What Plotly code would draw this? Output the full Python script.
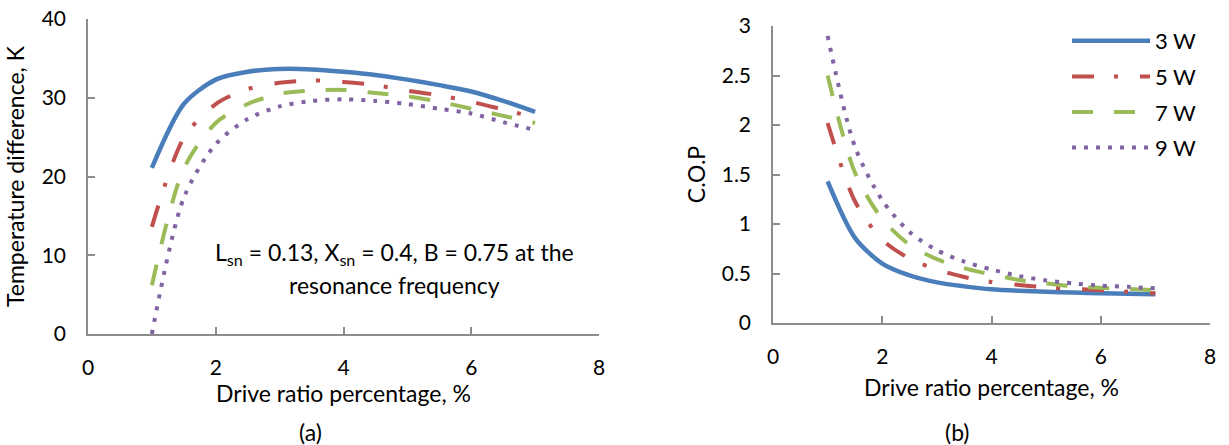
import plotly.graph_objects as go

# ---- data ----
drive_ratio = [1, 1.5, 2, 2.5, 3, 3.5, 4, 4.5, 5, 5.5, 6, 6.5, 7]
series_names = ["3 W", "5 W", "7 W", "9 W"]

dT_3W = [21.1, 29.2, 32.3, 33.3, 33.65, 33.6, 33.3, 32.9, 32.3, 31.6, 30.8, 29.6, 28.2]
dT_5W = [13.6, 24.9, 29.2, 31.1, 31.9, 32.2, 32.0, 31.6, 30.9, 30.3, 29.5, 28.5, 27.5]
dT_7W = [6.2, 21.0, 26.8, 29.2, 30.5, 30.9, 31.0, 30.6, 30.2, 29.5, 28.6, 27.7, 26.8]
dT_9W = [0.0, 17.3, 24.1, 27.3, 28.9, 29.6, 29.8, 29.6, 29.2, 28.6, 28.0, 26.9, 25.9]

cop_3W = [1.43, 0.86, 0.60, 0.48, 0.41, 0.37, 0.34, 0.325, 0.315, 0.307, 0.30, 0.295, 0.29]
cop_5W = [2.02, 1.23, 0.84, 0.65, 0.54, 0.465, 0.415, 0.385, 0.36, 0.345, 0.33, 0.315, 0.30]
cop_7W = [2.50, 1.52, 1.05, 0.79, 0.645, 0.555, 0.49, 0.435, 0.40, 0.37, 0.355, 0.345, 0.33]
cop_9W = [2.90, 1.78, 1.24, 0.92, 0.735, 0.62, 0.54, 0.475, 0.43, 0.40, 0.378, 0.365, 0.35]

dT_all = [dT_3W, dT_5W, dT_7W, dT_9W]
cop_all = [cop_3W, cop_5W, cop_7W, cop_9W]

colors = ["#4A7EBB", "#C0504D", "#9BBB59", "#8064A2"]
dashes = ["solid", "22px,20px,4px,22px", "21px,21px", "4px,8px"]
widths = [4.5, 4, 4, 4]

FONT = "Lato"
TICK_FS = 21
TITLE_FS = 23
ANN_FS = 23
AXC = "#8C8C8C"
TXT = "#000000"

fig = go.Figure()

for i in range(4):
    fig.add_trace(go.Scatter(
        x=drive_ratio, y=dT_all[i], mode="lines", name=series_names[i],
        line=dict(color=colors[i], width=widths[i], dash=dashes[i], shape="spline", smoothing=0.8),
        xaxis="x", yaxis="y", showlegend=False, cliponaxis=False,
    ))
for i in range(4):
    fig.add_trace(go.Scatter(
        x=drive_ratio, y=cop_all[i], mode="lines", name=series_names[i],
        line=dict(color=colors[i], width=widths[i], dash=dashes[i], shape="spline", smoothing=0.8),
        xaxis="x2", yaxis="y2", showlegend=True, legendgroup=series_names[i], cliponaxis=False,
    ))

W, H = 1229, 445
def fx(px):
    return px / W
def fy(py):
    return 1 - py / H

axis_common = dict(
    showgrid=False, zeroline=False, showline=True, linecolor=AXC, linewidth=1.5,
    ticks="inside", ticklen=7, tickwidth=1.5, tickcolor=AXC, automargin=False,
    tickfont=dict(family=FONT, size=TICK_FS, color=TXT),
    title_font=dict(family=FONT, size=TITLE_FS, color=TXT),
)

fig.update_layout(
    width=W, height=H,
    margin=dict(l=0, r=0, t=0, b=0),
    paper_bgcolor="white", plot_bgcolor="white",
    font=dict(family=FONT, size=TICK_FS, color=TXT),
    xaxis=dict(domain=[fx(88), fx(599)], range=[0, 8], dtick=2, anchor="y",
               title=dict(text="Drive ratio percentage, %", standoff=7),
               ticklabelstandoff=14, **axis_common),
    yaxis=dict(domain=[fy(334), fy(19)], range=[0, 40], dtick=10, anchor="x",
               title=dict(text="Temperature difference, K", standoff=11),
               ticklabelstandoff=16, **axis_common),
    xaxis2=dict(domain=[fx(773), fx(1210)], range=[0, 8], dtick=2, anchor="y2",
                title=dict(text="Drive ratio percentage, %", standoff=13),
                ticklabelstandoff=14, **axis_common),
    yaxis2=dict(domain=[fy(323), fy(26)], range=[0, 3], dtick=0.5, anchor="x2",
                title=dict(text="C.O.P", standoff=10),
                ticklabelstandoff=16, **axis_common),
    legend=dict(x=fx(1067), y=fy(20), xanchor="left", yanchor="top",
                font=dict(family=FONT, size=22, color=TXT),
                itemwidth=78, tracegroupgap=4, traceorder="grouped",
                bgcolor="rgba(0,0,0,0)"),
    annotations=[
        dict(text="L<sub>sn</sub> = 0.13, X<sub>sn</sub> = 0.4, B = 0.75 at the",
             x=fx(394), y=fy(253), xref="paper", yref="paper", showarrow=False,
             xanchor="center", yanchor="middle", font=dict(family=FONT, size=ANN_FS, color=TXT)),
        dict(text="resonance frequency",
             x=fx(394), y=fy(285), xref="paper", yref="paper", showarrow=False,
             xanchor="center", yanchor="middle", font=dict(family=FONT, size=ANN_FS, color=TXT)),
        dict(text="(a)", x=fx(310), y=fy(432), xref="paper", yref="paper", showarrow=False,
             xanchor="center", yanchor="middle", font=dict(family=FONT, size=TITLE_FS, color=TXT)),
        dict(text="(b)", x=fx(957), y=fy(432), xref="paper", yref="paper", showarrow=False,
             xanchor="center", yanchor="middle", font=dict(family=FONT, size=TITLE_FS, color=TXT)),
    ],
)

fig.write_html("out.html")
